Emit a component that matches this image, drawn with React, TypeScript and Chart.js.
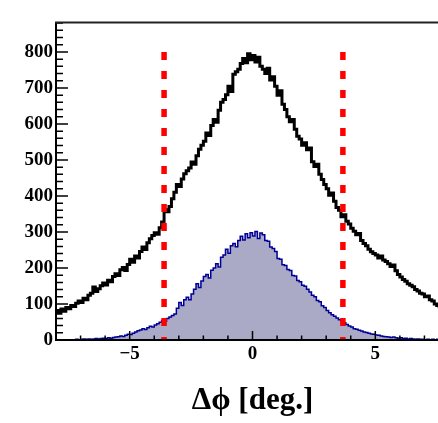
import React, { useEffect, useRef } from "react";
import { Chart, registerables } from "chart.js";

Chart.register(...registerables);

// ---- data ----
const binStart = -8.0;
const binWidth = 0.1;

// all events, bins of 0.1 deg from -8.0 (one row = 1 deg)
const allCounts = [
  76, 82, 74, 86, 80, 90, 87, 96, 93, 102,
  108, 104, 116, 112, 124, 130, 147, 135, 142, 151,
  158, 153, 166, 162, 176, 184, 179, 195, 201, 193,
  210, 224, 216, 233, 228, 246, 258, 251, 270, 281,
  290, 298, 294, 312, 328, 362, 356, 371, 392, 410,
  432, 426, 447, 462, 470, 478, 494, 488, 512, 530,
  541, 552, 575, 568, 596, 612, 605, 638, 660, 668,
  681, 705, 690, 738, 745, 752, 768, 782, 770, 795,
  778, 790, 772, 785, 760, 752, 740, 755, 722, 731,
  705, 680, 692, 655, 640, 620, 606, 612, 585, 566,
  558, 541, 548, 528, 533, 495, 482, 488, 460, 446,
  432, 420, 402, 408, 385, 368, 360, 342, 348, 330,
  322, 310, 302, 292, 296, 276, 268, 262, 252, 245,
  240, 236, 228, 233, 222, 218, 212, 204, 208, 192,
  182, 175, 168, 163, 156, 152, 148, 140, 136, 130,
  128, 120, 122, 112, 108, 100, 96, 92,
];

// selected events, same binning
const selectedCounts = [
  0, 0, 0, 0, 0, 0, 0, 0, 1, 2,
  1, 2, 3, 2, 3, 2, 3, 4, 3, 4,
  5, 4, 6, 5, 7, 8, 9, 11, 10, 13,
  16, 15, 19, 22, 26, 28, 31, 29, 34, 38,
  36, 42, 45, 49, 54, 52, 60, 64, 68, 72,
  88, 104, 96, 112, 119, 112, 128, 141, 156, 146,
  164, 176, 182, 172, 194, 200, 212, 203, 230, 236,
  252, 241, 262, 268, 259, 276, 288, 278, 295, 284,
  298, 289, 301, 282, 297, 292, 276, 274, 258, 254,
  246, 226, 224, 209, 207, 196, 193, 179, 178, 165,
  162, 152, 149, 141, 133, 124, 120, 110, 106, 95,
  90, 82, 76, 70, 66, 61, 56, 52, 48, 43,
  39, 36, 31, 30, 27, 25, 22, 21, 19, 17,
  16, 14, 13, 11, 10, 9, 8, 7, 8, 6,
  5, 6, 4, 5, 3, 4, 3, 2, 3, 2,
  2, 1, 2, 1, 2, 1, 2, 1,
];

const cutPositions = [-3.6, 3.68];
const cutHeight = 800;

const xRange = [-8, 8];
const yRange = [0, 882];
const xTickValues = [-5, 0, 5];
const xTickLabels = ["\u22125", "0", "5"];
const yTickValues = [0, 100, 200, 300, 400, 500, 600, 700, 800];
const yTickLabels = ["0", "100", "200", "300", "400", "500", "600", "700", "800"];
const xTitle = "\u0394\u03d5 [deg.]";

// ---- helpers ----
function histPoints(counts: number[]) {
  const pts = counts.map((c, i) => ({ x: binStart + i * binWidth, y: c }));
  pts.push({ x: binStart + counts.length * binWidth, y: counts[counts.length - 1] });
  return pts;
}

const FONT = "'Liberation Serif', 'Times New Roman', serif";

const framePlugin = {
  id: "rootFrame",
  afterDatasetsDraw(chart: any) {
    const { ctx, chartArea, scales } = chart;
    const { left, right, top, bottom } = chartArea;
    const xs = scales.x;
    const ys = scales.y;
    ctx.save();
    ctx.strokeStyle = "#000";
    ctx.lineCap = "butt";
    ctx.lineWidth = 1.5;
    ctx.beginPath();
    for (let v = 0; v <= ys.max; v += 20) {
      const py = ys.getPixelForValue(v);
      const len = v % 100 === 0 ? 12 : 7;
      ctx.moveTo(left, py);
      ctx.lineTo(left + len, py);
    }
    for (let v = Math.ceil(xs.min); v <= xs.max; v += 1) {
      const px = xs.getPixelForValue(v);
      const len = v % 5 === 0 ? 9 : 4.5;
      ctx.moveTo(px, bottom);
      ctx.lineTo(px, bottom - len);
    }
    ctx.stroke();
    ctx.lineWidth = 2;
    ctx.beginPath();
    ctx.moveTo(left, top);
    ctx.lineTo(left, bottom);
    ctx.moveTo(left - 1, bottom);
    ctx.lineTo(right, bottom);
    ctx.stroke();
    ctx.strokeStyle = "#222";
    ctx.beginPath();
    ctx.moveTo(left - 1, top);
    ctx.lineTo(right, top);
    ctx.stroke();
    ctx.restore();
  },
};

export default function App() {
  const ref = useRef<HTMLCanvasElement | null>(null);

  useEffect(() => {
    if (!ref.current) return;
    const cutSets = cutPositions.map((c) => ({
      data: [
        { x: c, y: cutHeight },
        { x: c, y: 0 },
      ],
      borderColor: "rgb(255,0,0)",
      borderWidth: 5.5,
      borderDash: [8, 11],
      borderCapStyle: "butt" as const,
      pointRadius: 0,
      fill: false,
      order: 0,
    }));
    const chart = new Chart(ref.current, {
      type: "line",
      data: {
        datasets: [
          ...cutSets,
          {
            data: histPoints(allCounts),
            stepped: "after",
            borderColor: "#000",
            borderWidth: 3,
            borderJoinStyle: "miter",
            pointRadius: 0,
            fill: false,
            order: 1,
          },
          {
            data: histPoints(selectedCounts),
            stepped: "after",
            borderColor: "#000096",
            borderWidth: 1.5,
            backgroundColor: "rgb(170,170,198)",
            pointRadius: 0,
            fill: "origin",
            order: 2,
          },
        ] as any,
      },
      options: {
        animation: false,
        responsive: false,
        events: [],
        layout: { padding: { top: 1, right: 0, left: 0, bottom: 0 } },
        plugins: {
          legend: { display: false },
          tooltip: { enabled: false },
        },
        scales: {
          x: {
            type: "linear",
            min: xRange[0],
            max: xRange[1],
            grid: { display: false, drawTicks: false },
            border: { display: false },
            afterBuildTicks: (s: any) => {
              s.ticks = xTickValues.map((v) => ({ value: v }));
            },
            afterFit: (s: any) => {
              s.height = 83;
            },
            ticks: {
              padding: 3,
              maxRotation: 0,
              autoSkip: false,
              color: "#000",
              font: { family: FONT, weight: "bold", size: 19 },
              callback: (v: any) => {
                const i = xTickValues.indexOf(Number(v));
                return i >= 0 ? xTickLabels[i] : "";
              },
            },
            title: {
              display: true,
              text: xTitle,
              color: "#000",
              font: { family: FONT, weight: "bold", size: 31 },
              padding: { top: 0, bottom: 3 },
            },
          },
          y: {
            type: "linear",
            min: yRange[0],
            max: yRange[1],
            grid: { display: false, drawTicks: false },
            border: { display: false },
            afterBuildTicks: (s: any) => {
              s.ticks = yTickValues.map((v) => ({ value: v }));
            },
            afterFit: (s: any) => {
              s.width = 48;
            },
            ticks: {
              padding: 3,
              autoSkip: false,
              color: "#000",
              font: { family: FONT, weight: "bold", size: 19 },
              callback: (v: any) => {
                const i = yTickValues.indexOf(Number(v));
                return i >= 0 ? yTickLabels[i] : "";
              },
            },
          },
        },
      },
      plugins: [framePlugin],
    });
    return () => chart.destroy();
  }, []);

  return (
    <div
      style={{
        position: "fixed",
        left: 8,
        top: 8,
        width: 430,
        height: 415,
        overflow: "hidden",
      }}
    >
      <canvas ref={ref} width={441} height={415} style={{ display: "block" }} />
    </div>
  );
}
